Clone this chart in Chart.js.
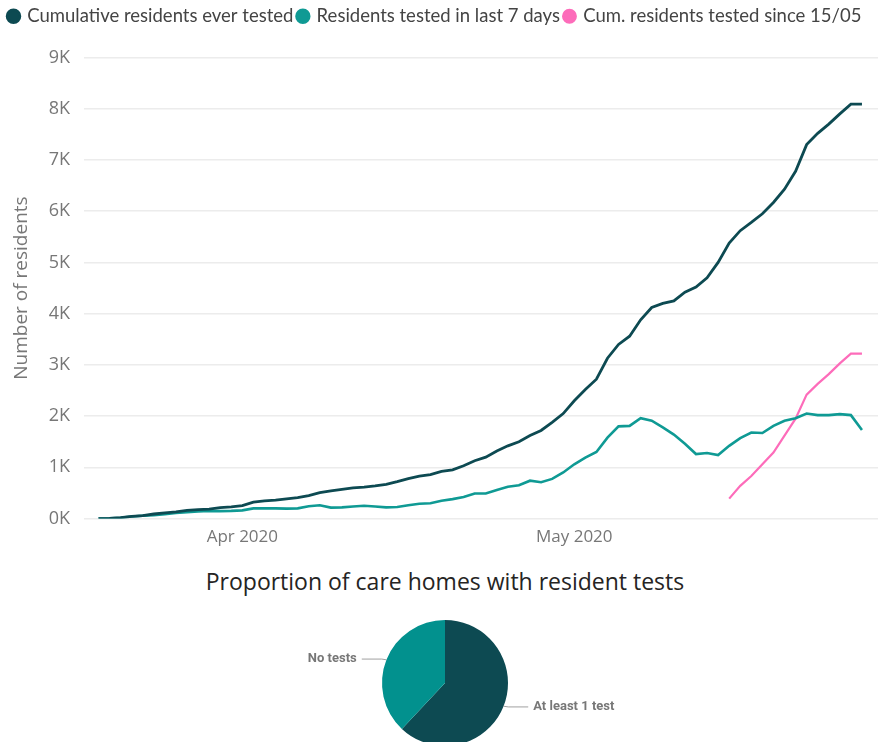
<!DOCTYPE html>
<html>
<head>
<meta charset="utf-8">
<script src="https://cdn.jsdelivr.net/npm/chart.js@4/dist/chart.umd.min.js"></script>
<style>
  body { margin: 0; width: 884px; height: 742px; overflow: hidden; background: #fff; font-family: "Open Sans", sans-serif; }
  #lineWrap { position: absolute; left: 0; top: 0; width: 884px; height: 547px; }
  #pieTitle { position: absolute; left: 0; top: 565px; width: 890px; text-align: center; font-size: 23px; line-height: 32px; color: #252423; }
  #pieWrap { position: absolute; left: 235px; top: 610px; width: 420px; height: 146px; }
</style>
</head>
<body>
<div id="lineWrap"><canvas id="chartLine"></canvas></div>
<div id="pieTitle">Proportion of care homes with resident tests</div>
<div id="pieWrap"><canvas id="chartPie"></canvas></div>

<script>
// daily categories, 19/03 - 27/05 2020
var dates = ['19/03','20/03','21/03','22/03','23/03','24/03','25/03','26/03','27/03','28/03','29/03','30/03','31/03',
  '01/04','02/04','03/04','04/04','05/04','06/04','07/04','08/04','09/04','10/04','11/04','12/04','13/04','14/04','15/04',
  '16/04','17/04','18/04','19/04','20/04','21/04','22/04','23/04','24/04','25/04','26/04','27/04','28/04','29/04','30/04',
  '01/05','02/05','03/05','04/05','05/05','06/05','07/05','08/05','09/05','10/05','11/05','12/05','13/05','14/05','15/05',
  '16/05','17/05','18/05','19/05','20/05','21/05','22/05','23/05','24/05','25/05','26/05','27/05'];

var cumulativeTested = [0,5,20,45,60,90,110,130,160,175,185,215,230,
  255,320,345,360,385,410,450,505,540,570,600,615,640,670,720,
  780,830,860,920,950,1030,1130,1200,1320,1420,1500,1620,1720,1880,2050,
  2300,2520,2720,3130,3400,3560,3880,4120,4200,4250,4420,4520,4700,5000,5380,
  5620,5780,5950,6170,6430,6780,7300,7520,7700,7900,8090,8090];

var testedLast7 = [0,5,15,40,55,65,85,110,125,140,150,145,150,
  160,200,200,200,195,200,240,260,215,220,235,250,235,220,225,
  260,290,300,350,380,420,490,490,560,620,650,740,710,775,900,
  1060,1190,1300,1580,1800,1810,1960,1910,1780,1640,1460,1260,1280,1240,1420,
  1570,1680,1670,1810,1910,1960,2050,2020,2020,2040,2020,1730];

// cumulative since 15/05
var sinceStart = '15/05';
var testedSince = [390,640,830,1060,1290,1620,1950,2420,2630,2820,3030,3220,3220];

var monthTicks = { '01/04': 'Apr 2020', '01/05': 'May 2020' };

var pieLabels = ['At least 1 test', 'No tests'];
var pieValues = [62, 38];

var darkTeal = '#0d4a52';
var teal = '#0f9a94';
var pink = '#fd6cba';

function toPoints(values, offset) {
  return values.map(function(v, i) { return { x: i + offset, y: v }; });
}

// extra room between legend and plot
var legendGap = {
  id: 'legendGap',
  beforeInit: function(chart) {
    var fit = chart.legend.fit;
    chart.legend.fit = function() {
      fit.bind(chart.legend)();
      this.height += 22;
    };
  }
};

var chartLine = new Chart(document.getElementById('chartLine').getContext('2d'), {
  type: 'line',
  data: {
    datasets: [{
      label: 'Cumulative residents ever tested',
      data: toPoints(cumulativeTested, 0),
      borderColor: darkTeal,
      backgroundColor: darkTeal,
      borderWidth: 2.8
    }, {
      label: 'Residents tested in last 7 days',
      data: toPoints(testedLast7, 0),
      borderColor: teal,
      backgroundColor: teal,
      borderWidth: 2.6
    }, {
      label: 'Cum. residents tested since 15/05',
      data: toPoints(testedSince, dates.indexOf(sinceStart)),
      borderColor: pink,
      backgroundColor: pink,
      borderWidth: 2.2
    }]
  },
  options: {
    responsive: true,
    maintainAspectRatio: false,
    animation: false,
    elements: { point: { radius: 0 }, line: { tension: 0 } },
    layout: { padding: { left: 4, right: 6, top: 2, bottom: 0 } },
    plugins: {
      tooltip: { enabled: false },
      legend: {
        position: 'top',
        align: 'start',
        labels: {
          usePointStyle: true,
          pointStyle: 'circle',
          boxWidth: 9,
          boxHeight: 9,
          padding: 5,
          color: '#444',
          font: { family: 'Lato', size: 18.5 }
        }
      }
    },
    scales: {
      x: {
        type: 'linear',
        min: -1.3,
        max: 70.45,
        grid: { display: false },
        border: { display: false },
        afterBuildTicks: function(axis) {
          axis.ticks = dates.map(function(d, i) { return { value: i }; })
            .filter(function(t) { return monthTicks[dates[t.value]]; });
        },
        ticks: {
          autoSkip: false,
          maxRotation: 0,
          padding: 0,
          color: '#777',
          font: { family: 'Open Sans', size: 17 },
          callback: function(v) { return monthTicks[dates[v]]; }
        }
      },
      y: {
        min: 0,
        max: 9000,
        grid: { color: '#ececec', lineWidth: 1.5, drawTicks: false },
        border: { display: false },
        ticks: {
          stepSize: 1000,
          padding: 14,
          color: '#777',
          font: { family: 'Open Sans', size: 18 },
          callback: function(v) { return (v / 1000) + 'K'; }
        },
        title: {
          display: true,
          text: 'Number of residents',
          color: '#777',
          font: { family: 'Open Sans', size: 19 },
          padding: { top: 6, bottom: 2 }
        }
      }
    }
  },
  plugins: [legendGap]
});

// leader lines + labels round the pie
var pieLabelPlugin = {
  id: 'pieLabels',
  afterDraw: function(chart) {
    var ctx = chart.ctx;
    var meta = chart.getDatasetMeta(0);
    ctx.save();
    ctx.font = 'bold 13px Roboto';
    ctx.textBaseline = 'middle';
    meta.data.forEach(function(arc, i) {
      var a = (arc.startAngle + arc.endAngle) / 2;
      var r = arc.outerRadius;
      var px = arc.x + Math.cos(a) * r, py = arc.y + Math.sin(a) * r;
      var ex = arc.x + Math.cos(a) * (r + 5), ey = arc.y + Math.sin(a) * (r + 2);
      var dir = Math.cos(a) >= 0 ? 1 : -1;
      var hx = ex + dir * 20;
      ctx.strokeStyle = '#a0a0a0';
      ctx.lineWidth = 1;
      ctx.beginPath();
      ctx.moveTo(px, py);
      ctx.lineTo(ex, ey);
      ctx.lineTo(hx, ey);
      ctx.stroke();
      ctx.fillStyle = '#777';
      ctx.textAlign = dir > 0 ? 'left' : 'right';
      ctx.fillText(chart.data.labels[i], hx + dir * 5, ey);
    });
    ctx.restore();
  }
};

var chartPie = new Chart(document.getElementById('chartPie').getContext('2d'), {
  type: 'pie',
  data: {
    labels: pieLabels,
    datasets: [{
      data: pieValues,
      backgroundColor: [darkTeal, '#02918e'],
      borderWidth: 0
    }]
  },
  options: {
    responsive: true,
    maintainAspectRatio: false,
    animation: false,
    layout: { padding: 10 },
    plugins: { legend: { display: false }, tooltip: { enabled: false } }
  },
  plugins: [pieLabelPlugin]
});
</script>
</body>
</html>
